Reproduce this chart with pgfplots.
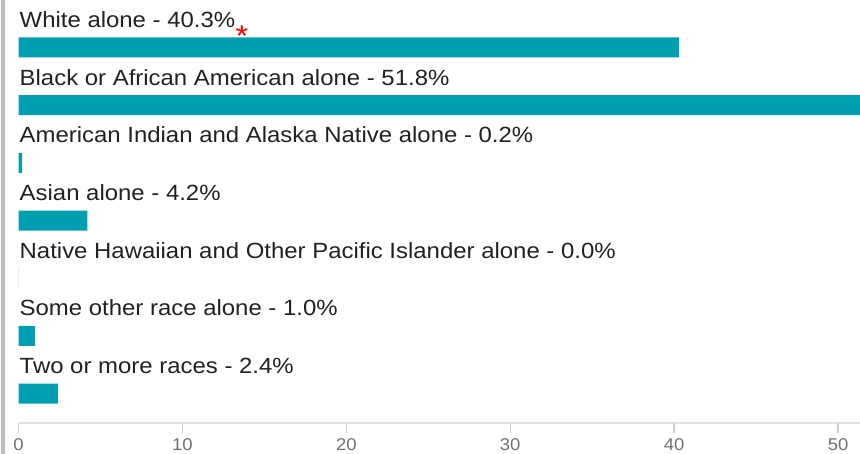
\documentclass[border=0pt]{standalone}
\usepackage{fontspec}
\setmainfont{Liberation Sans}[FakeStretch=1.088]
\usepackage{pgfplots}
\pgfplotsset{compat=1.18}
\definecolor{barc}{RGB}{0,160,176}
\definecolor{txt}{RGB}{33,33,33}
\definecolor{axl}{RGB}{226,226,226}
\definecolor{tickc}{RGB}{205,205,205}
\definecolor{tickl}{RGB}{112,112,112}
\definecolor{brd}{RGB}{190,190,190}
\begin{document}
\begin{tikzpicture}[x=1pt,y=1pt]
\useasboundingbox (0,0) rectangle (860,454);
\fill[brd] (1,0) rectangle (4.5,454);
\begin{axis}[
  at={(18.5pt,31.3pt)}, anchor=south west,
  scale only axis, width=841.5pt, height=422.7pt,
  xmin=0, xmax=51.34, ymin=-0.503, ymax=6.823,
  axis x line*=bottom, axis y line=none,
  x axis line style={draw=axl, line width=1.8pt, -},
  xtick={0,10,20,30,40,50}, ytick=\empty,
  major tick length=0pt,
  xticklabel style={font=\fontsize{17}{17}\selectfont, text=tickl, anchor=north, inner sep=0pt, yshift=-16pt},
  /pgf/number format/assume math mode=true,
  xbar, bar width=20pt, clip=false,
  every node/.style={inner sep=0pt},
]
\addplot[draw=none, fill=barc] coordinates {
(40.3,6) (51.8,5) (0.2,4) (4.2,3) (0.0,2) (1.0,1) (2.4,0)};
\begin{scope}[every node/.style={anchor=base west, inner sep=0pt, text=txt, font=\fontsize{22}{22}\selectfont}]
\node[yshift=20pt,xshift=1pt] at (axis cs:0,6) {White alone - 40.3\%\hspace{0.5pt}\textcolor{red}{\fontsize{30}{30}\selectfont\raisebox{-19pt}{*}}};
\node[yshift=20pt,xshift=1pt] at (axis cs:0,5) {Black or African American alone - 51.8\%};
\node[yshift=20pt,xshift=1pt] at (axis cs:0,4) {American Indian and Alaska Native alone - 0.2\%};
\node[yshift=20pt,xshift=1pt] at (axis cs:0,3) {Asian alone - 4.2\%};
\node[yshift=20pt,xshift=1pt] at (axis cs:0,2) {Native Hawaiian and Other Pacific Islander alone - 0.0\%};
\node[yshift=20pt,xshift=1pt] at (axis cs:0,1) {Some other race alone - 1.0\%};
\node[yshift=20pt,xshift=1pt] at (axis cs:0,0) {Two or more races - 2.4\%};
\end{scope}
\end{axis}
\foreach \k in {0,1,2,3,4,5}{
  \draw[draw=tickc, line width=1.3pt] ({18.5+163.9*\k},31) -- ({18.5+163.9*\k},21);
}
\end{tikzpicture}
\end{document}
